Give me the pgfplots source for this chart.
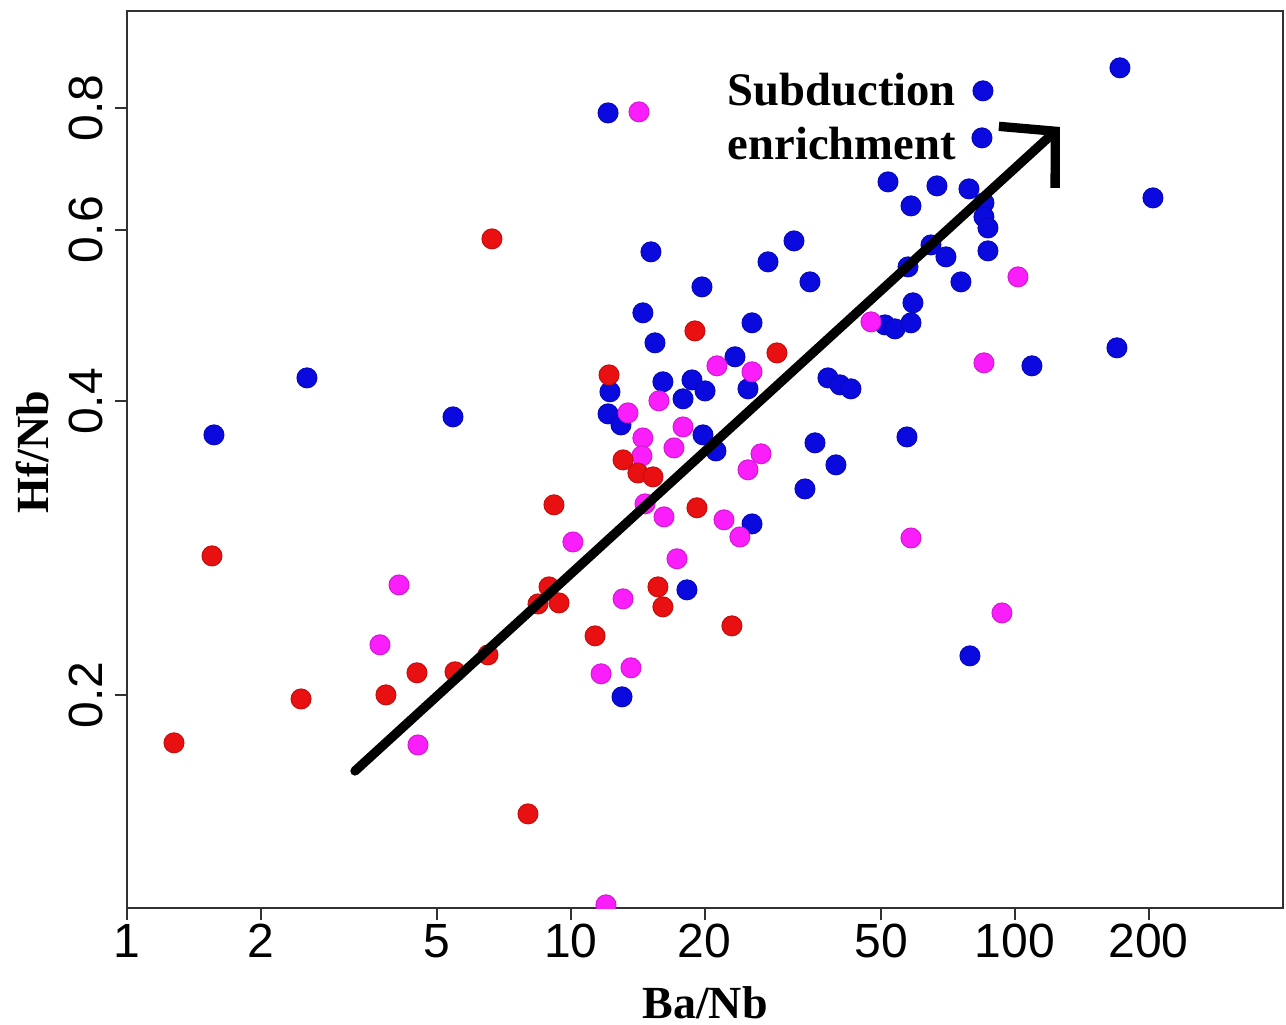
\documentclass[border=0pt]{standalone}
\usepackage{fontspec}
\setmainfont{Liberation Serif}
\newfontfamily\arialfont{Liberation Sans}
\usepackage{graphicx}
\usepackage{pgfplots}
\pgfplotsset{compat=1.18}
\usetikzlibrary{arrows.meta}
\definecolor{pred}{RGB}{232,16,16}
\definecolor{pblue}{RGB}{10,10,222}
\definecolor{pmag}{RGB}{250,30,250}
\definecolor{axgray}{RGB}{50,50,50}
\begin{document}
\begin{tikzpicture}
\begin{axis}[
  name=ax, at={(0,0)}, anchor=south west,
  scale only axis, width=346.8pt, height=269.1pt,
  xmode=log, ymode=log,
  xmin=1, xmax=401.5, ymin=0.1209, ymax=1.0056,
  xtick={1,2,5,10,20,50,100,200},
  xticklabels={1,2,5,10,20,50,100,200},
  ytick={0.2,0.4,0.6,0.8},
  yticklabels={0.2,0.4,0.6,0.8},
  xminorticks=false, yminorticks=false,
  xtick pos=bottom, ytick pos=left,
  tick align=outside, major tick length=3.75pt,
  tick style={axgray, line width=0.6pt},
  axis line style={axgray, line width=0.6pt},
  ticklabel style={font=\arialfont\fontsize{14.4}{16}\selectfont},
  xticklabel style={yshift=2.4pt},
  yticklabel style={rotate=90, anchor=south},
  xlabel={Ba/Nb}, ylabel={Hf/Nb},
  xlabel style={at={(axis description cs:0.5,-0.1237)}, anchor=base, font=\bfseries\fontsize{13.8}{16}\selectfont},
  ylabel style={at={(axis description cs:-0.0683,0.508)}, anchor=base, font=\bfseries\fontsize{13.8}{16}\selectfont},
  clip marker paths=true,
  every axis plot/.append style={only marks, mark=*, mark size=3pt},
]
% blue
\addplot[pblue, mark options={draw=pblue!85!black, fill=pblue, line width=0.3pt}] table {
x y
1.570 0.3696
2.543 0.4228
5.423 0.3856
12.12 0.7906
15.14 0.5694
19.73 0.5242
14.52 0.4930
15.46 0.4593
16.11 0.4189
18.73 0.4208
20.04 0.4100
12.24 0.4091
12.12 0.3884
12.96 0.3784
17.88 0.4024
19.83 0.3696
21.21 0.3558
25.04 0.4120
25.57 0.4815
27.78 0.5561
31.79 0.5843
34.54 0.5304
23.41 0.4444
25.57 0.2995
18.25 0.2563
13.03 0.1991
33.65 0.3253
35.45 0.3627
39.52 0.3443
37.92 0.4228
40.35 0.4159
42.72 0.4120
50.96 0.4792
53.67 0.4747
58.32 0.4815
58.92 0.5048
57.12 0.3678
57.42 0.5495
64.69 0.5788
69.92 0.5627
75.58 0.5304
51.76 0.6717
58.32 0.6347
66.73 0.6654
78.78 0.6607
85.14 0.6392
85.14 0.6184
86.93 0.6025
86.93 0.5707
84.71 0.8328
84.27 0.7453
79.19 0.2193
109.21 0.4350
172.39 0.8793
204.56 0.6468
169.71 0.4539
};
% magenta
\addplot[pmag, mark options={draw=pmag!85!black, fill=pmag, line width=0.3pt}] table {
x y
4.099 0.2593
3.714 0.2251
4.523 0.1777
10.10 0.2870
11.69 0.2102
13.65 0.2132
13.10 0.2509
11.99 0.1218
14.23 0.7925
13.44 0.3893
14.52 0.3669
14.45 0.3517
14.68 0.3140
15.78 0.4005
16.20 0.3045
17.06 0.3584
17.33 0.2758
17.88 0.3766
21.32 0.4350
22.11 0.3024
24.01 0.2904
25.04 0.3403
25.57 0.4289
26.79 0.3534
47.39 0.4826
58.32 0.2897
85.14 0.4381
93.48 0.2427
101.57 0.5367
};
% red
\addplot[pred, mark options={draw=pred!85!black, fill=pred, line width=0.3pt}] table {
x y
1.276 0.1786
1.554 0.2777
2.466 0.1981
3.831 0.2000
4.499 0.2107
5.480 0.2112
6.502 0.2198
6.638 0.5871
8.001 0.1510
8.922 0.2581
8.427 0.2479
9.397 0.2485
9.156 0.3133
11.33 0.2299
12.18 0.4258
13.10 0.3484
14.15 0.3378
15.30 0.3347
15.70 0.2581
16.11 0.2462
19.02 0.4724
19.22 0.3111
23.04 0.2354
29.10 0.4485
};
% arrow
\addplot[black, no markers, line width=2.8pt, line cap=round, sharp plot,
  -{Straight Barb[length=11.5pt, width=25pt, line width=2.8pt]}]
  coordinates {(3.262,0.1671) (126.3,0.7648)};
\node[anchor=base west, inner sep=0pt, font=\bfseries\fontsize{14}{16}\selectfont]
  at (axis cs:22.46,0.804) {Subduction};
\node[anchor=base west, inner sep=0pt, font=\bfseries\fontsize{14}{16}\selectfont]
  at (axis cs:22.46,0.709) {enrichment};
\end{axis}
\pgfresetboundingbox
\path[use as bounding box] (-38.1pt,-35.1pt) rectangle (347.7pt,272.4pt);
\end{tikzpicture}
\end{document}
